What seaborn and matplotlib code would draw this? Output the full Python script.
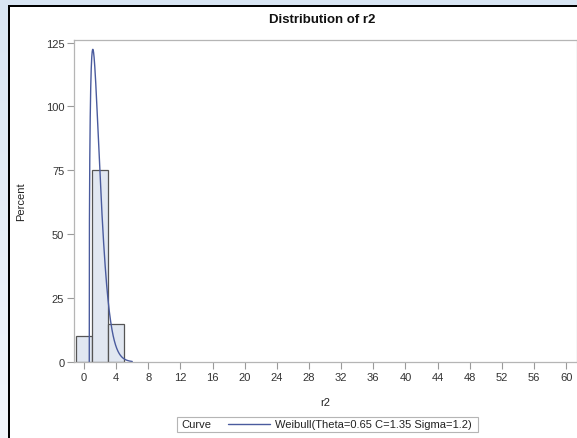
import numpy as np
import pandas as pd
import matplotlib
matplotlib.use("Agg")
import matplotlib.pyplot as plt
from matplotlib.patches import Rectangle
from matplotlib.lines import Line2D
import seaborn as sns

# Histogram of r2 (percent per bin, bin width 2)
bin_edges = [-1, 1, 3, 5]
bin_mids = [0, 2, 4]
percents = [10, 75, 15]

# Fitted Weibull parameters
theta = 0.65
c_shape = 1.35
sigma = 1.2
bin_width = 2

x_ticks = list(range(0, 61, 4))
y_ticks = [0, 25, 50, 75, 100, 125]

sns.set_theme(style="white")
plt.rcParams["font.family"] = ["Liberation Sans", "DejaVu Sans"]

W, H = 577, 439
fig = plt.figure(figsize=(W / 100, H / 100), dpi=100)
fig.patch.set_facecolor("white")

# Page background: light blue band with a black frame (pixel coordinates)
bg = fig.add_axes([0, 0, 1, 1], zorder=-10)
bg.set_xlim(0, W)
bg.set_ylim(H, 0)
bg.axis("off")
grad = np.linspace(0, 1, 200).reshape(-1, 1)
bg.imshow(grad, extent=(0, 8, H, 0), aspect="auto",
          cmap=matplotlib.colors.LinearSegmentedColormap.from_list(
              "band", ["#d8e5f3", "#f2f6fb"]))
bg.add_patch(Rectangle((0, 0), W, 6, color="#d8e5f3", lw=0))
bg.add_patch(Rectangle((8, 6), W, 2, color="black", lw=0))
bg.add_patch(Rectangle((8, 6), 2, H, color="black", lw=0))

ax = fig.add_axes([74 / W, 1 - 363 / H, 1 - 74 / W, (363 - 41) / H])

hist_df = pd.DataFrame({"r2": bin_mids, "pct": percents})
sns.histplot(data=hist_df, x="r2", weights="pct", bins=bin_edges, ax=ax,
             stat="count", color="#e1e7f1", alpha=1.0,
             edgecolor="#555555", linewidth=0.9)

# Weibull density curve scaled to percent per bin
xs = np.linspace(theta, 6, 500)
z = (xs - theta) / sigma
dens = (c_shape / sigma) * z ** (c_shape - 1) * np.exp(-z ** c_shape)
curve_df = pd.DataFrame({"x": xs, "y": 100 * bin_width * dens})
sns.lineplot(data=curve_df, x="x", y="y", ax=ax, color="#4a5b9e",
             linewidth=1.0, estimator=None, sort=False)

ax.set_xlim(-1.25, 61.35)
ax.set_ylim(0, 126)
ax.set_xticks(x_ticks)
ax.set_yticks(y_ticks)
ax.tick_params(axis="both", which="both", length=5, width=0.8,
               color="#9a9a9a", labelsize=8, labelcolor="#333333",
               direction="out", pad=2, bottom=True, left=True)
for side in ["left", "bottom", "top", "right"]:
    ax.spines[side].set_color("#b5b5b5")
    ax.spines[side].set_linewidth(0.9)
ax.set_xlabel("r2", fontsize=8, color="#222222")
ax.xaxis.set_label_coords(0.5, -(398 - 363) / (363 - 41))
ax.set_ylabel("Percent", fontsize=8, color="#222222")
ax.yaxis.set_label_coords((26 - 74) / (W - 74), 0.5)
ax.grid(False)

# Title
bg.text(322, 20, "Distribution of r2", fontsize=9.5, fontweight="bold",
        color="#111111", ha="center", va="center")

# Legend box at the bottom
bg.add_patch(Rectangle((177, 418), 301, 15, facecolor="white",
                       edgecolor="#b5b5b5", lw=0.8))
bg.text(181, 425.5, "Curve", fontsize=8, color="#222222", va="center", ha="left")
bg.add_line(Line2D([228, 270], [425.5, 425.5], color="#4a5b9e", lw=1.0))
bg.text(275, 425.5, "Weibull(Theta=0.65 C=1.35 Sigma=1.2)", fontsize=8,
        color="#222222", va="center", ha="left")

fig.savefig("out.png", dpi=100)
